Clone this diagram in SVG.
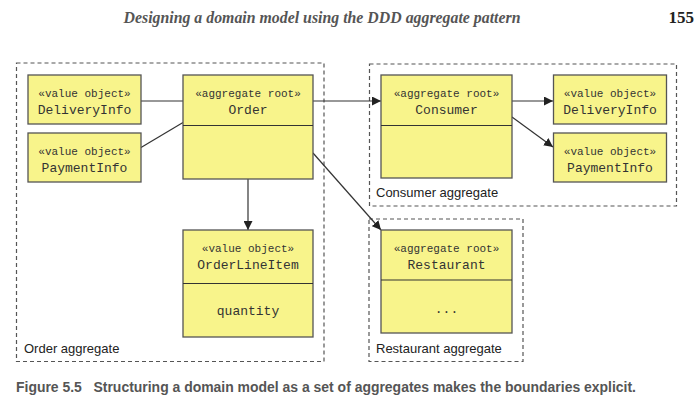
<svg xmlns="http://www.w3.org/2000/svg" width="694" height="407" viewBox="0 0 694 407">
<style>
.agg{fill:none;stroke:#555;stroke-width:1.2;stroke-dasharray:4,3}
.box{fill:#f8f48b;stroke:#555;stroke-width:1.3}
.div{stroke:#333;stroke-width:1.2}
.st{font-family:"Liberation Mono","DejaVu Sans Mono",monospace;font-size:11px;fill:#333;text-anchor:middle}
.nm{font-family:"Liberation Mono","DejaVu Sans Mono",monospace;font-size:13px;fill:#333;text-anchor:middle}
.lbl{font-family:"Liberation Sans",Arial,sans-serif;font-size:13px;fill:#222}
.con{stroke:#333;stroke-width:1.2;fill:none}
</style>
<defs>
<marker id="ah" viewBox="0 0 10 10" refX="10" refY="5" markerWidth="9" markerHeight="9" markerUnits="userSpaceOnUse" orient="auto">
<path d="M0,0 L10,5 L0,10 z" fill="#222"/>
</marker>
</defs>
<text x="322" y="23" font-family="Liberation Serif,serif" font-style="italic" font-weight="bold" font-size="17" fill="#555" text-anchor="middle" textLength="397" lengthAdjust="spacingAndGlyphs">Designing a domain model using the DDD aggregate pattern</text>
<text x="694" y="23" font-family="Liberation Serif,serif" font-weight="bold" font-size="17" fill="#222" text-anchor="end">155</text>

<g id="order-aggregate">
<rect class="agg" x="16.5" y="63" width="307.5" height="298.5"/>
<text class="lbl" x="24" y="353">Order aggregate</text>
</g>
<g id="consumer-aggregate">
<rect class="agg" x="369.5" y="64" width="307" height="142"/>
<text class="lbl" x="376" y="197">Consumer aggregate</text>
</g>
<g id="restaurant-aggregate">
<rect class="agg" x="369" y="219" width="154" height="142.5"/>
<text class="lbl" x="376" y="353">Restaurant aggregate</text>
</g>

<g id="connectors">
<line class="con" x1="141" y1="101" x2="183" y2="101"/>
<line class="con" x1="141" y1="147.5" x2="183" y2="122.5"/>
<line class="con" x1="248" y1="179" x2="248" y2="230" marker-end="url(#ah)"/>
<line class="con" x1="313" y1="101" x2="381" y2="101" marker-end="url(#ah)"/>
<line class="con" x1="313" y1="153" x2="381" y2="230" marker-end="url(#ah)"/>
<line class="con" x1="512" y1="101" x2="553" y2="101" marker-end="url(#ah)"/>
<line class="con" x1="512" y1="117" x2="553" y2="147" marker-end="url(#ah)"/>
</g>

<g id="order-deliveryinfo">
<rect class="box" x="28" y="75" width="113" height="49"/>
<text class="st" x="84.5" y="97">«value object»</text>
<text class="nm" x="84.5" y="114">DeliveryInfo</text>
</g>
<g id="order-paymentinfo">
<rect class="box" x="28" y="133" width="113" height="49"/>
<text class="st" x="84.5" y="155">«value object»</text>
<text class="nm" x="84.5" y="172">PaymentInfo</text>
</g>
<g id="order">
<rect class="box" x="183" y="75" width="130" height="104"/>
<line class="div" x1="183" y1="125.5" x2="313" y2="125.5"/>
<text class="st" x="248" y="97">«aggregate root»</text>
<text class="nm" x="248" y="114">Order</text>
</g>
<g id="orderlineitem">
<rect class="box" x="183" y="230" width="130" height="107"/>
<line class="div" x1="183" y1="283.5" x2="313" y2="283.5"/>
<text class="st" x="248" y="252">«value object»</text>
<text class="nm" x="248" y="269">OrderLineItem</text>
<text class="nm" x="248" y="315">quantity</text>
</g>
<g id="consumer">
<rect class="box" x="381" y="75" width="131" height="103"/>
<line class="div" x1="381" y1="125.5" x2="512" y2="125.5"/>
<text class="st" x="446.5" y="97">«aggregate root»</text>
<text class="nm" x="446.5" y="114">Consumer</text>
</g>
<g id="consumer-deliveryinfo">
<rect class="box" x="553.5" y="75" width="113" height="49"/>
<text class="st" x="610" y="97">«value object»</text>
<text class="nm" x="610" y="114">DeliveryInfo</text>
</g>
<g id="consumer-paymentinfo">
<rect class="box" x="553.5" y="133" width="113" height="49"/>
<text class="st" x="610" y="155">«value object»</text>
<text class="nm" x="610" y="172">PaymentInfo</text>
</g>
<g id="restaurant">
<rect class="box" x="381" y="230" width="131" height="103"/>
<line class="div" x1="381" y1="280" x2="512" y2="280"/>
<text class="st" x="446.5" y="252">«aggregate root»</text>
<text class="nm" x="446.5" y="269">Restaurant</text>
<text class="nm" x="446.5" y="313">...</text>
</g>

<text x="16" y="392" font-family="Liberation Sans,Arial,sans-serif" font-weight="bold" font-size="14" fill="#555" textLength="620" lengthAdjust="spacingAndGlyphs" xml:space="preserve">Figure 5.5   Structuring a domain model as a set of aggregates makes the boundaries explicit.</text>
</svg>
